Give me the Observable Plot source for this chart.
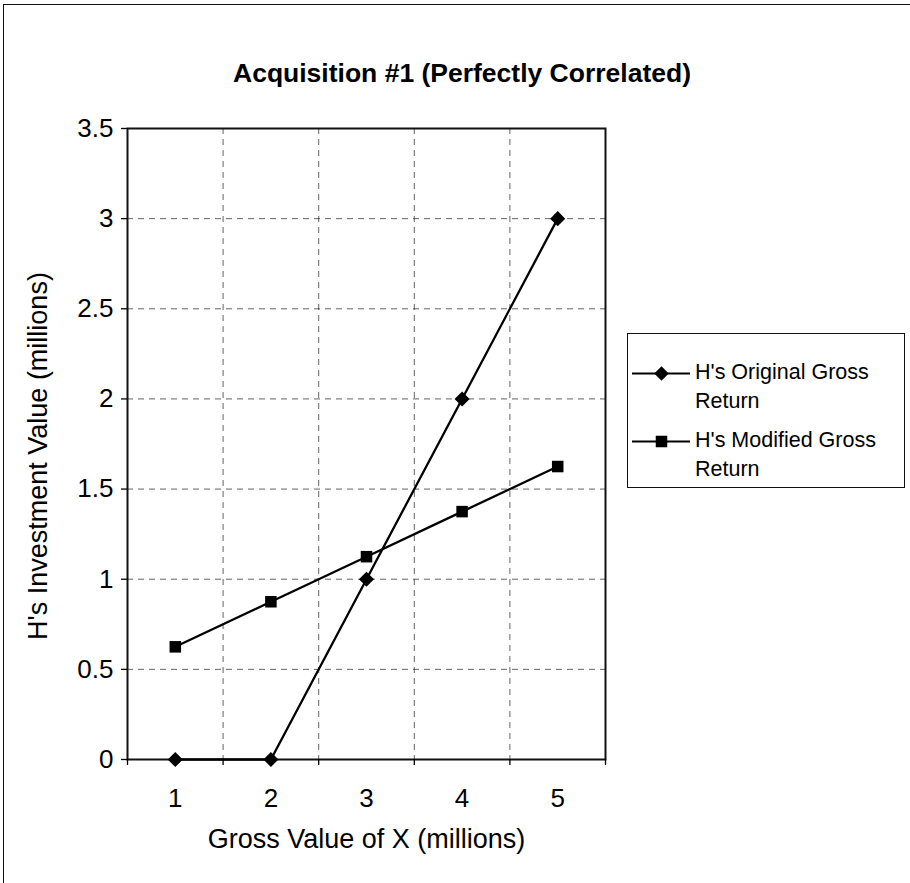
<!DOCTYPE html>
<html>
<head>
<meta charset="utf-8">
<script src="https://cdn.jsdelivr.net/npm/d3@7"></script>
<script src="https://cdn.jsdelivr.net/npm/@observablehq/plot@0.6"></script>
<style>
  html, body { margin: 0; padding: 0; background: #fff; }
  body { font-family: "Liberation Sans", Arial, sans-serif; }
  #wrap { position: relative; width: 910px; height: 883px; overflow: hidden; }
  #border { position: absolute; left: 3px; top: 4px; width: 920px; height: 900px; border-left: 1.5px solid #111; border-top: 1.5px solid #111; }
  #title { position: absolute; left: 0; width: 924px; top: 58px; text-align: center; font-weight: bold; font-size: 26.5px; color: #000; }
  #chart { position: absolute; left: 0; top: 0; }
  #legend { position: absolute; left: 627px; top: 333px; width: 278px; height: 155px; border: 1.3px solid #111; box-sizing: border-box; }
  .entry { position: absolute; left: 0; width: 276px; height: 60px; }
  .entry svg { position: absolute; left: 4px; top: 0; max-width: none !important; }
  .entry .txt { position: absolute; left: 67px; top: 0; width: 210px; font-size: 21.5px; line-height: 29px; color: #000; white-space: nowrap; }
</style>
</head>
<body>
<div id="wrap">
  <div id="border"></div>
  <div id="chart"></div>
  <div id="title"></div>
  <div id="legend"></div>
</div>
<script>
const titleText = "Acquisition #1 (Perfectly Correlated)";
const xLabel = "Gross Value of X (millions)";
const yLabel = "H's Investment Value (millions)";
const xValues = [1, 2, 3, 4, 5];
const originalGross = [0, 0, 1, 2, 3];
const modifiedGross = [0.625, 0.875, 1.125, 1.375, 1.625];
const seriesNames = ["H's Original Gross Return", "H's Modified Gross Return"];
const yTicks = [0, 0.5, 1, 1.5, 2, 2.5, 3, 3.5];
const xBoundaries = [0.5, 1.5, 2.5, 3.5, 4.5, 5.5];

document.getElementById("title").textContent = titleText;

const original = xValues.map((x, i) => ({x, y: originalGross[i]}));
const modified = xValues.map((x, i) => ({x, y: modifiedGross[i]}));

const font = "Liberation Sans, Arial, sans-serif";
const gridStyle = {stroke: "#222", strokeOpacity: 0.7, strokeWidth: 1, strokeDasharray: "6,5"};

const plot = Plot.plot({
  width: 910,
  height: 883,
  marginLeft: 127,
  marginRight: 305,
  marginTop: 128,
  marginBottom: 124,
  style: {fontFamily: font, fontSize: "20px", color: "#000", background: "transparent", overflow: "visible"},
  x: {domain: [0.5, 5.5]},
  y: {domain: [0, 3.5]},
  marks: [
    Plot.gridY(yTicks.slice(1, -1), gridStyle),
    Plot.gridX(xBoundaries.slice(1, -1), gridStyle),
    Plot.frame({stroke: "#111", strokeWidth: 2}),
    Plot.axisY(yTicks, {tickSize: 6, tickPadding: 8, tickFormat: d => String(d), fontSize: 26, strokeWidth: 1.3, label: null}),
    Plot.text([yLabel], {frameAnchor: "left", rotate: -90, textAnchor: "middle", dx: -89, dy: 12, fontSize: 27, fill: "#000"}),
    Plot.axisX(xBoundaries, {tickSize: 6, tickFormat: () => "", strokeWidth: 1.3, label: null}),
    Plot.axisX(xValues, {tickSize: 0, tickPadding: 29, tickFormat: d => String(d), fontSize: 26, label: null}),
    Plot.text([xLabel], {frameAnchor: "bottom", textAnchor: "middle", lineAnchor: "middle", dy: 80, fontSize: 27, fill: "#000"}),
    Plot.line(original, {x: "x", y: "y", stroke: "#000", strokeWidth: 2.3}),
    Plot.line(modified, {x: "x", y: "y", stroke: "#000", strokeWidth: 2.3}),
    Plot.dot(original, {x: "x", y: "y", symbol: "diamond2", r: 6.8, fill: "#000", stroke: "none"}),
    Plot.dot(modified, {x: "x", y: "y", symbol: "square", r: 6.5, fill: "#000", stroke: "none"})
  ]
});
document.getElementById("chart").appendChild(plot);

// Legend
const legend = document.getElementById("legend");
const symbols = ["diamond2", "square"];
const tops = [24, 92];
seriesNames.forEach((name, i) => {
  const entry = document.createElement("div");
  entry.className = "entry";
  entry.style.top = tops[i] + "px";
  const sym = Plot.plot({
    width: 58, height: 30, margin: 0,
    x: {domain: [0, 1], axis: null}, y: {domain: [0, 1], axis: null},
    style: {background: "transparent", overflow: "visible"},
    marks: [
      Plot.ruleY([0.5], {x1: 0, x2: 1, stroke: "#000", strokeWidth: 2}),
      Plot.dot([0.5], {x: d => d, y: 0.5, symbol: symbols[i], r: 6.5, fill: "#000", stroke: "none"})
    ]
  });
  entry.appendChild(sym);
  const txt = document.createElement("div");
  txt.className = "txt";
  const parts = name.split(" ");
  txt.innerHTML = parts.slice(0, -1).join(" ") + "<br>" + parts[parts.length - 1];
  entry.appendChild(txt);
  legend.appendChild(entry);
});
</script>
</body>
</html>
